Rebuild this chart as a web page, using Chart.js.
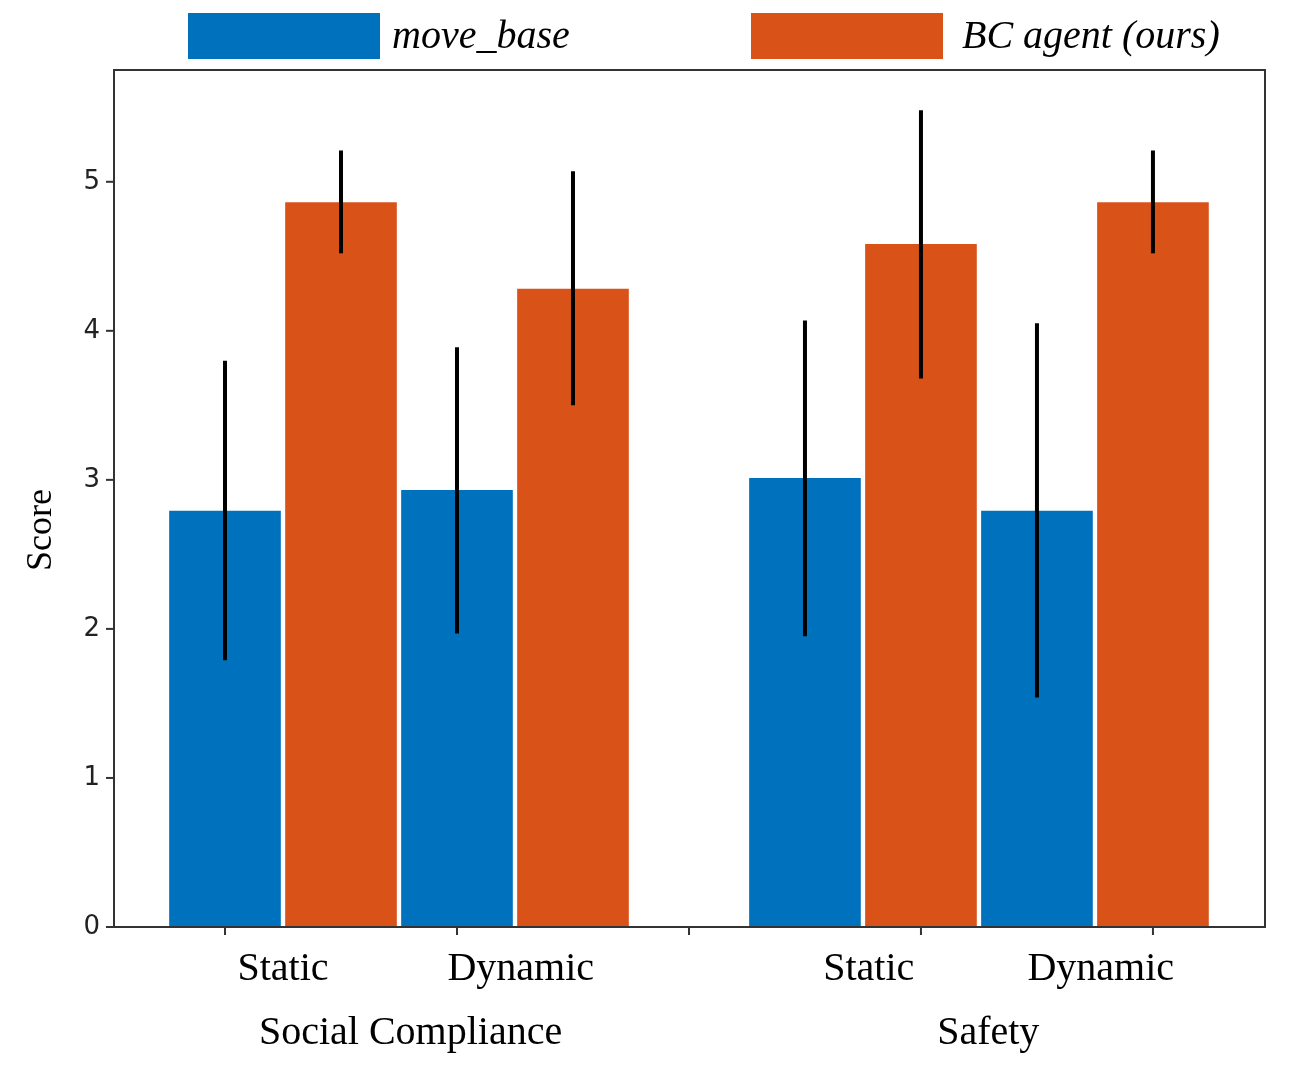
<!DOCTYPE html>
<html><head><meta charset="utf-8">
<script src="https://cdn.jsdelivr.net/npm/chart.js@4/dist/chart.umd.min.js"></script>
<style>html,body{margin:0;padding:0;background:#fff}#w{width:1299px;height:1073px}</style>
</head><body><div id="w"><canvas id="c"></canvas></div>
<script>
const seriesNames = ['move_base', 'BC agent (ours)'];
const subLabels = ['Static', 'Dynamic', 'Static', 'Dynamic'];
const groupLabels = ['Social Compliance', 'Safety'];
const moveBase = [2.79, 2.93, 3.01, 2.79];
const moveBaseLo = [1.79, 1.97, 1.95, 1.54];
const moveBaseHi = [3.80, 3.89, 4.07, 4.05];
const bcAgent = [4.86, 4.28, 4.58, 4.86];
const bcLo = [4.52, 3.50, 3.68, 4.52];
const bcHi = [5.21, 5.07, 5.48, 5.21];
const blueX = [1, 3, 6, 8];
const orangeX = [2, 4, 7, 9];
const subLabelX = [1.5, 3.55, 6.55, 8.55];
const groupLabelX = [2.6, 7.58];
const xTicks = [1, 3, 5, 7, 9];
const yTicks = [0, 1, 2, 3, 4, 5];
const BLUE = '#0072BD', ORANGE = '#D95319';

const drawPlugin = {
  id: 'draw',
  afterDatasetsDraw(chart) {
    const {ctx, chartArea: a, scales: {x, y}} = chart;
    ctx.save();
    // error bars
    ctx.strokeStyle = '#000'; ctx.lineWidth = 4;
    const eb = (xs, lo, hi) => xs.forEach((v, i) => {
      const px = x.getPixelForValue(v);
      ctx.beginPath(); ctx.moveTo(px, y.getPixelForValue(lo[i])); ctx.lineTo(px, y.getPixelForValue(hi[i])); ctx.stroke();
    });
    eb(blueX, moveBaseLo, moveBaseHi);
    eb(orangeX, bcLo, bcHi);
    // frame
    ctx.strokeStyle = '#333'; ctx.lineWidth = 2;
    ctx.strokeRect(a.left, a.top, a.right - a.left, a.bottom - a.top);
    // y ticks
    ctx.fillStyle = '#222'; ctx.font = '26px "DejaVu Sans"';
    ctx.textAlign = 'right'; ctx.textBaseline = 'middle';
    yTicks.forEach(t => {
      const py = y.getPixelForValue(t);
      ctx.beginPath(); ctx.moveTo(a.left - 8, py); ctx.lineTo(a.left, py); ctx.stroke();
      ctx.fillText(String(t), a.left - 14, py);
    });
    // x ticks
    xTicks.forEach(t => {
      const px = x.getPixelForValue(t);
      ctx.beginPath(); ctx.moveTo(px, a.bottom); ctx.lineTo(px, a.bottom + 8); ctx.stroke();
    });
    ctx.fillStyle = '#000';
    ctx.font = '40px "Liberation Serif"'; ctx.textAlign = 'center'; ctx.textBaseline = 'middle';
    subLabels.forEach((l, i) => ctx.fillText(l, x.getPixelForValue(subLabelX[i]), 969));
    groupLabels.forEach((l, i) => ctx.fillText(l, x.getPixelForValue(groupLabelX[i]), 1033));
    // y title
    ctx.save(); ctx.translate(42, 530); ctx.rotate(-Math.PI / 2);
    ctx.font = '36px "Liberation Serif"'; ctx.fillText('Score', 0, 0); ctx.restore();
    // legend
    ctx.font = 'italic 40px "Liberation Serif"'; ctx.textAlign = 'left';
    ctx.fillStyle = BLUE; ctx.fillRect(188, 13, 192, 46);
    ctx.fillStyle = ORANGE; ctx.fillRect(751, 13, 192, 46);
    ctx.fillStyle = '#000';
    ctx.fillText(seriesNames[0], 392, 37);
    ctx.fillText(seriesNames[1], 962, 37);
    ctx.restore();
  }
};

new Chart(document.getElementById('c'), {
  type: 'bar',
  data: {
    datasets: [
      {label: seriesNames[0], data: blueX.map((v, i) => ({x: v, y: moveBase[i]})), backgroundColor: BLUE},
      {label: seriesNames[1], data: orangeX.map((v, i) => ({x: v, y: bcAgent[i]})), backgroundColor: ORANGE}
    ]
  },
  options: {
    responsive: true, maintainAspectRatio: false, animation: false,
    devicePixelRatio: 1,
    layout: {padding: {left: 114, top: 70, right: 34, bottom: 146}},
    datasets: {bar: {grouped: false, barPercentage: 1, categoryPercentage: 1}},
    plugins: {legend: {display: false}, tooltip: {enabled: false}},
    scales: {
      x: {type: 'linear', min: 0.043, max: 9.966, display: false, offset: false},
      y: {min: 0, max: 5.75, display: false}
    }
  },
  plugins: [drawPlugin]
});
</script></body></html>
